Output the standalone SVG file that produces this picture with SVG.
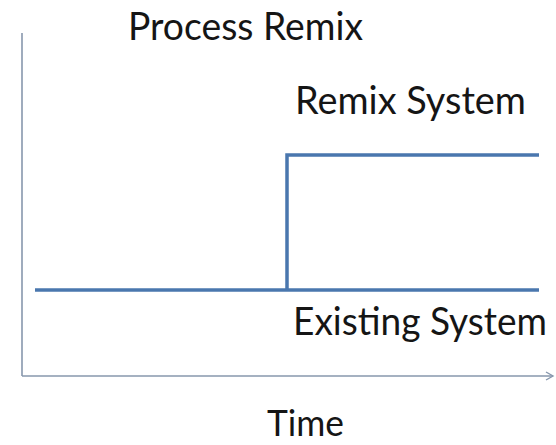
<svg xmlns="http://www.w3.org/2000/svg" width="556" height="445" viewBox="0 0 556 445">
  <style>
    .lbl { font-family: Lato, "Open Sans", "Liberation Sans", sans-serif; font-size: 38px; fill: #151515; }
    .axis { stroke: #8797ad; stroke-width: 1.6; fill: none; }
    .step { stroke: #4a77ae; stroke-width: 3.5; fill: none; }
  </style>
  <defs>
    <marker id="axisArrow" markerWidth="10" markerHeight="10" refX="8" refY="5" orient="auto" markerUnits="userSpaceOnUse">
      <path d="M1,1 L8,5 L1,9" stroke="#8797ad" stroke-width="1.4" fill="none"/>
    </marker>
  </defs>

  <!-- time axis and value axis -->
  <g id="axes">
    <line class="axis" x1="22" y1="33" x2="22" y2="376"/>
    <line class="axis" x1="22" y1="376" x2="553" y2="376" marker-end="url(#axisArrow)"/>
  </g>

  <!-- step from existing system to remix system -->
  <g id="connectors">
    <line class="step" x1="35" y1="290" x2="539" y2="290"/>
    <polyline class="step" points="287,290 287,155 539,155"/>
  </g>

  <g id="title">
    <text class="lbl" x="128" y="40" textLength="235" lengthAdjust="spacingAndGlyphs">Process Remix</text>
  </g>
  <g id="remix-system">
    <text class="lbl" x="295" y="114" textLength="231" lengthAdjust="spacingAndGlyphs">Remix System</text>
  </g>
  <g id="existing-system">
    <text class="lbl" x="293" y="335" textLength="254" lengthAdjust="spacingAndGlyphs">Existing System</text>
  </g>
  <g id="time">
    <text class="lbl" x="267" y="436" style="font-size:36px" textLength="77" lengthAdjust="spacingAndGlyphs">Time</text>
  </g>
</svg>
